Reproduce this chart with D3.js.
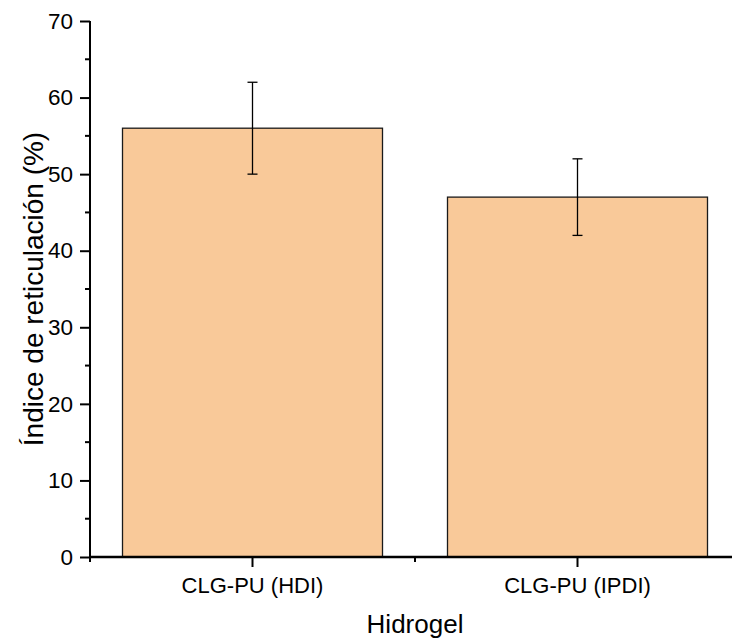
<!DOCTYPE html>
<html>
<head>
<meta charset="utf-8">
<script src="https://cdn.jsdelivr.net/npm/d3@7/dist/d3.min.js"></script>
<style>
  html, body { margin: 0; padding: 0; background: #fff; }
  svg { display: block; font-family: "Liberation Sans", Arial, sans-serif; }
</style>
</head>
<body>
<svg id="chart" width="732" height="640"></svg>
<script>
// Crosslinking index per hydrogel (mean and standard deviation)
const categories = ["CLG-PU (HDI)", "CLG-PU (IPDI)"];
const means = [56, 47];
const errors = [6, 5];
const yTicks = [0, 10, 20, 30, 40, 50, 60, 70];
const yMinorTicks = [5, 15, 25, 35, 45, 55, 65];

const svg = d3.select("#chart");
const plotLeft = 90, plotRight = 740, plotTop = 21, plotBottom = 557;

const x = d3.scaleBand().domain(categories).range([plotLeft, plotRight]).paddingInner(0).paddingOuter(0);
const y = d3.scaleLinear().domain([0, 70]).range([plotBottom, plotTop]);
const barW = x.bandwidth() * 0.8;

// bars
svg.append("g").selectAll("rect")
  .data(categories)
  .join("rect")
  .attr("x", d => x(d) + (x.bandwidth() - barW) / 2)
  .attr("y", (d, i) => y(means[i]))
  .attr("width", barW)
  .attr("height", (d, i) => y(0) - y(means[i]))
  .attr("fill", "#F9C999")
  .attr("stroke", "#1a1a1a")
  .attr("stroke-width", 1.3);

// error bars
const eg = svg.append("g").attr("stroke", "#000").attr("stroke-width", 1.3);
categories.forEach((c, i) => {
  const cx = x(c) + x.bandwidth() / 2;
  eg.append("line").attr("x1", cx).attr("x2", cx)
    .attr("y1", y(means[i] + errors[i])).attr("y2", y(means[i] - errors[i]));
  [means[i] + errors[i], means[i] - errors[i]].forEach(v => {
    eg.append("line").attr("x1", cx - 5).attr("x2", cx + 5)
      .attr("y1", y(v)).attr("y2", y(v));
  });
});

// y axis
const yAxis = d3.axisLeft(y).tickValues(yTicks).tickSize(10).tickPadding(7).tickFormat(d3.format("d"));
const gy = svg.append("g").attr("transform", `translate(${plotLeft},0)`).call(yAxis);
gy.select(".domain").remove();
gy.selectAll(".tick line").attr("stroke", "#000").attr("stroke-width", 2);
gy.selectAll(".tick text").attr("font-size", 22.5).attr("fill", "#000")
  .attr("font-family", "Liberation Sans, Arial, sans-serif");
gy.append("g").selectAll("line").data(yMinorTicks).join("line")
  .attr("x1", -5).attr("x2", 0).attr("y1", d => y(d)).attr("y2", d => y(d))
  .attr("stroke", "#000").attr("stroke-width", 2);
gy.append("line").attr("x1", 0).attr("x2", 0).attr("y1", y(70)).attr("y2", y(0) + 1)
  .attr("stroke", "#000").attr("stroke-width", 2);

// x axis
const xAxis = d3.axisBottom(x).tickSize(10).tickPadding(10);
const gx = svg.append("g").attr("transform", `translate(0,${plotBottom})`).call(xAxis);
gx.select(".domain").remove();
gx.selectAll(".tick line").attr("stroke", "#000").attr("stroke-width", 2);
gx.selectAll(".tick text").attr("font-size", 22).attr("fill", "#000")
  .attr("font-family", "Liberation Sans, Arial, sans-serif");
gx.append("g").selectAll("line").data(categories.map(c => x(c)))
  .join("line")
  .attr("x1", d => d).attr("x2", d => d).attr("y1", 0).attr("y2", 5)
  .attr("stroke", "#000").attr("stroke-width", 2);
gx.append("line").attr("x1", plotLeft - 1).attr("x2", 732).attr("y1", 0).attr("y2", 0)
  .attr("stroke", "#000").attr("stroke-width", 2.5);

// axis titles
svg.append("text")
  .attr("x", 415).attr("y", 633)
  .attr("text-anchor", "middle").attr("font-size", 26).attr("fill", "#000")
  .text("Hidrogel");
svg.append("text")
  .attr("transform", `translate(43,289) rotate(-90)`)
  .attr("text-anchor", "middle").attr("font-size", 28).attr("fill", "#000")
  .text("Índice de reticulación (%)");
</script>
</body>
</html>
